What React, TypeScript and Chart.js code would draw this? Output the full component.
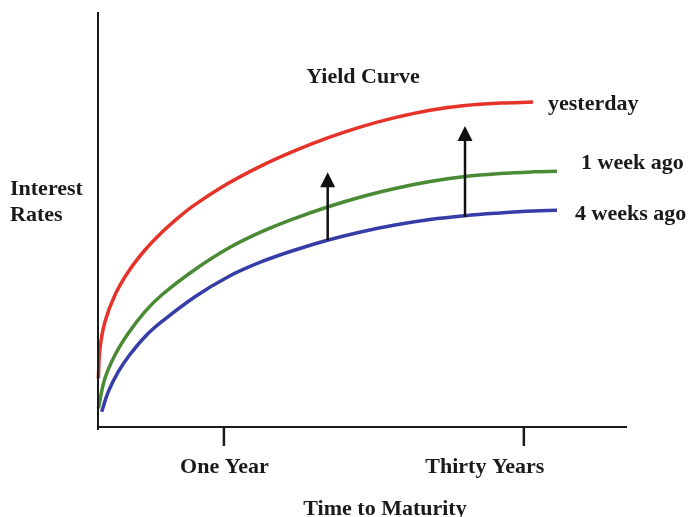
import React, { useEffect, useRef } from "react";
import { Chart, registerables } from "chart.js";

Chart.register(...registerables);

// x: maturity position (0..100 across axis), y: interest rate level (0..100)
const yesterdayX = [0.06, 0.38, 1.32, 3.21, 5.73, 8.88, 12.04, 15.18, 18.34, 24.63, 30.95, 37.24, 43.53, 49.85, 56.14, 62.76, 69.38, 75.99, 82.23];
const yesterdayY = [11.73, 18.96, 25.37, 31.81, 37.42, 42.65, 46.87, 50.46, 53.59, 58.72, 62.99, 66.6, 69.73, 72.39, 74.55, 76.34, 77.47, 78.05, 78.29];

const weekAgoX = [0.06, 1.32, 3.21, 5.73, 8.88, 12.04, 18.34, 24.63, 30.95, 37.24, 43.53, 49.85, 56.14, 62.76, 69.38, 75.99, 82.23, 86.77];
const weekAgoY = [4.51, 11.73, 17.35, 22.58, 27.78, 31.81, 37.95, 43.06, 47.06, 50.29, 53.08, 55.49, 57.47, 59.16, 60.36, 61.08, 61.49, 61.64];

const fourWeeksX = [0.7, 1.95, 3.84, 5.73, 8.88, 12.04, 18.34, 24.63, 30.95, 37.24, 43.53, 49.85, 56.14, 62.76, 69.38, 75.99, 82.23, 86.77];
const fourWeeksY = [3.69, 8.51, 13.33, 16.94, 21.76, 25.37, 31.4, 36.22, 39.83, 42.65, 45.06, 47.06, 48.67, 50.0, 50.92, 51.57, 52.05, 52.22];

const seriesNames = ["yesterday", "1 week ago", "4 weeks ago"];

// arrows: x, from y, to y
const arrowX = [43.42, 69.38];
const arrowFrom = [45.0, 50.6];
const arrowTo = [61.37, 72.53];

const tickValues = [23.8, 80.5];
const tickLabels = ["One Year", "Thirty Years"];

const toPts = (xs: number[], ys: number[]) => xs.map((x, i) => ({ x, y: ys[i] }));

const FONT = 'bold 22px "Liberation Serif", "Times New Roman", serif';

const overlay = {
  id: "overlay",
  afterDraw(chart: any) {
    const ctx = chart.ctx as CanvasRenderingContext2D;
    const xs = chart.scales.x;
    const ys = chart.scales.y;
    const area = chart.chartArea;
    ctx.save();
    // axes
    ctx.strokeStyle = "#1a1a1a";
    ctx.lineWidth = 2;
    ctx.beginPath();
    ctx.moveTo(area.left, area.top);
    ctx.lineTo(area.left, area.bottom + 3);
    ctx.moveTo(area.left - 1, area.bottom);
    ctx.lineTo(area.right, area.bottom);
    ctx.stroke();
    // ticks
    ctx.lineWidth = 2.5;
    tickValues.forEach((v) => {
      const px = xs.getPixelForValue(v);
      ctx.beginPath();
      ctx.moveTo(px, area.bottom);
      ctx.lineTo(px, area.bottom + 19);
      ctx.stroke();
    });
    // arrows
    ctx.fillStyle = "#111";
    ctx.strokeStyle = "#111";
    ctx.lineWidth = 2.5;
    arrowX.forEach((v, i) => {
      const px = xs.getPixelForValue(v);
      const y0 = ys.getPixelForValue(arrowFrom[i]);
      const y1 = ys.getPixelForValue(arrowTo[i]);
      ctx.beginPath();
      ctx.moveTo(px, y0);
      ctx.lineTo(px, y1 + 12);
      ctx.stroke();
      ctx.beginPath();
      ctx.moveTo(px, y1);
      ctx.lineTo(px - 7.5, y1 + 15);
      ctx.lineTo(px + 7.5, y1 + 15);
      ctx.closePath();
      ctx.fill();
    });
    // texts
    ctx.fillStyle = "#1a1a1a";
    ctx.font = FONT;
    ctx.textBaseline = "alphabetic";
    ctx.textAlign = "center";
    tickLabels.forEach((t, i) => {
      const offs = i === 0 ? 0.5 : -39;
      ctx.fillText(t, xs.getPixelForValue(tickValues[i]) + offs, 473);
    });
    ctx.fillText("Time to Maturity", 385, 515);
    ctx.fillText("Yield Curve", 363, 83);
    ctx.textAlign = "left";
    ctx.fillText("Interest", 10, 195);
    ctx.fillText("Rates", 10, 221);
    ctx.fillText(seriesNames[0], 548, 110);
    ctx.fillText(seriesNames[1], 581, 169);
    ctx.fillText(seriesNames[2], 575, 220);
    ctx.restore();
  },
};

export default function App() {
  const ref = useRef<HTMLCanvasElement>(null);
  useEffect(() => {
    document.body.style.margin = "0";
    const chart = new Chart(ref.current!, {
      type: "line",
      data: {
        datasets: [
          { label: seriesNames[0], data: toPts(yesterdayX, yesterdayY), borderColor: "#e5332a" },
          { label: seriesNames[1], data: toPts(weekAgoX, weekAgoY), borderColor: "#4b8a35" },
          { label: seriesNames[2], data: toPts(fourWeeksX, fourWeeksY), borderColor: "#363da6" },
        ].map((d) => ({
          ...d,
          borderWidth: 3.5,
          pointRadius: 0,
          fill: false,
          tension: 0.4,
        })),
      },
      plugins: [overlay],
      options: {
        animation: false,
        responsive: false,
        clip: false as any,
        layout: { padding: { left: 98, right: 64, top: 12, bottom: 90 } },
        plugins: { legend: { display: false }, tooltip: { enabled: false } },
        scales: {
          x: { type: "linear", min: 0, max: 100, display: false },
          y: { type: "linear", min: 0, max: 100, display: false },
        },
      },
    });
    return () => chart.destroy();
  }, []);
  return <canvas ref={ref} width={691} height={517} style={{ display: "block" }} />;
}
